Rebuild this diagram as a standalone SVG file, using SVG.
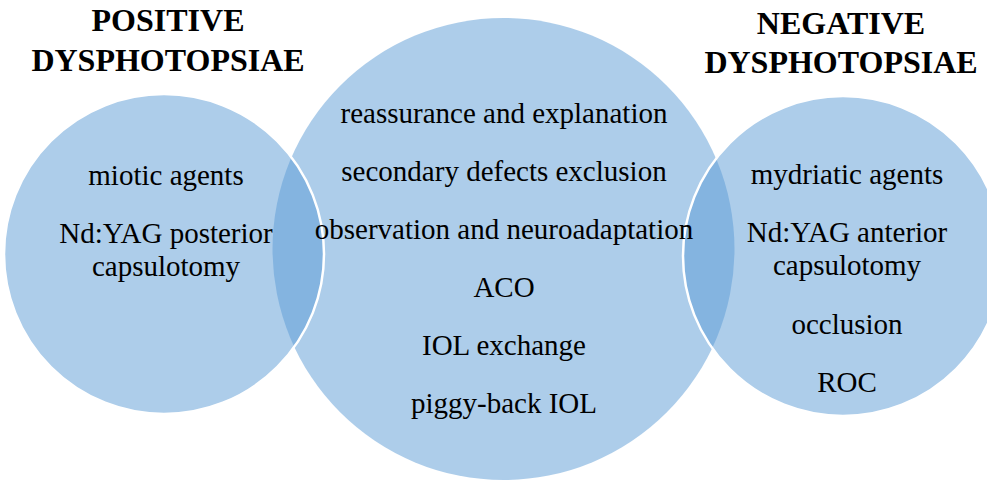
<svg xmlns="http://www.w3.org/2000/svg" width="987" height="481" viewBox="0 0 987 481">
<style>
.c{fill:#5b9bd5;fill-opacity:0.5}
.s{stroke:#ffffff;stroke-width:2.5}
text{font-family:'Liberation Serif','Times New Roman',Times,serif;fill:#000;text-anchor:middle}
.t{font-size:29px}
.h{font-size:32px;font-weight:bold}
</style>
<rect width="987" height="481" fill="#ffffff"/>
<g id="middle">
<circle class="c" cx="503.5" cy="249" r="231"/>
</g>
<g id="left">
<circle class="c s" cx="164" cy="254" r="160"/>
</g>
<g id="right">
<circle class="c s" cx="843" cy="256" r="160"/>
</g>
<g id="connectors"></g>
<g id="left-title">
<text class="h" x="168" y="31">POSITIVE</text>
<text class="h" x="168" y="71">DYSPHOTOPSIAE</text>
</g>
<g id="right-title">
<text class="h" x="841" y="34">NEGATIVE</text>
<text class="h" x="841" y="73">DYSPHOTOPSIAE</text>
</g>
<g id="left-text">
<text class="t" x="166" y="185">miotic agents</text>
<text class="t" x="166" y="243">Nd:YAG posterior</text>
<text class="t" x="166" y="276">capsulotomy</text>
</g>
<g id="middle-text">
<text class="t" x="504" y="123">reassurance and explanation</text>
<text class="t" x="504" y="181">secondary defects exclusion</text>
<text class="t" x="504" y="239">observation and neuroadaptation</text>
<text class="t" x="504" y="297">ACO</text>
<text class="t" x="504" y="355">IOL exchange</text>
<text class="t" x="504" y="413">piggy-back IOL</text>
</g>
<g id="right-text">
<text class="t" x="847" y="184">mydriatic agents</text>
<text class="t" x="847" y="242">Nd:YAG anterior</text>
<text class="t" x="847" y="275">capsulotomy</text>
<text class="t" x="847" y="334">occlusion</text>
<text class="t" x="847" y="392">ROC</text>
</g>
</svg>
